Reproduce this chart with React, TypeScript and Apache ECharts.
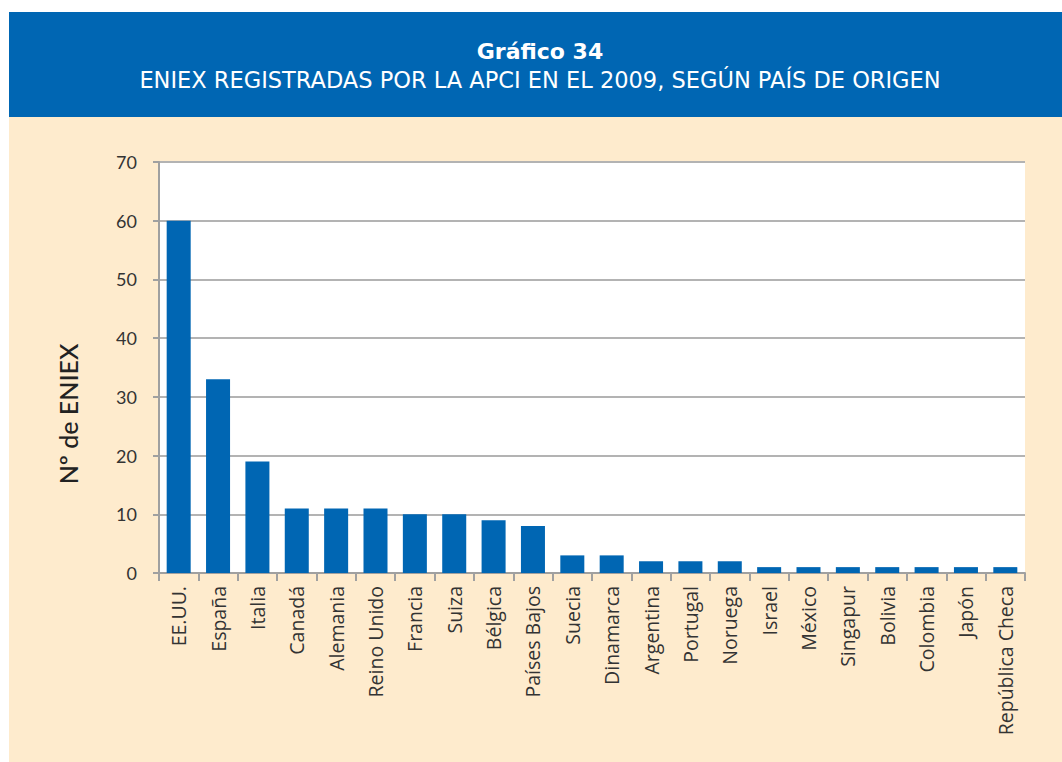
import React, { useEffect, useRef } from "react";
import * as echarts from "echarts";

const categories = [
  "EE.UU.", "España", "Italia", "Canadá", "Alemania", "Reino Unido", "Francia", "Suiza",
  "Bélgica", "Países Bajos", "Suecia", "Dinamarca", "Argentina", "Portugal", "Noruega",
  "Israel", "México", "Singapur", "Bolivia", "Colombia", "Japón", "República Checa",
];
const values = [60, 33, 19, 11, 11, 11, 10, 10, 9, 8, 3, 3, 2, 2, 2, 1, 1, 1, 1, 1, 1, 1];
const yTicks = [0, 10, 20, 30, 40, 50, 60, 70];

const titleText = "Gráfico 34";
const subtitleText = "ENIEX REGISTRADAS POR LA APCI EN EL 2009, SEGÚN PAÍS DE ORIGEN";
const yAxisName = "Nº de ENIEX";

const FONT = "Lato, 'Open Sans', sans-serif";
const LABEL_FONT = "'Open Sans', Lato, sans-serif";
const HEAD_FONT = "'DejaVu Sans', sans-serif";

export default function App() {
  const ref = useRef<HTMLDivElement>(null);
  useEffect(() => {
    if (!ref.current) return;
    const chart = echarts.init(ref.current, undefined, { renderer: "svg" });
    chart.setOption({
      animation: false,
      backgroundColor: "#ffffff",
      textStyle: { fontFamily: FONT },
      graphic: [
        { type: "rect", shape: { x: 9, y: 117, width: 1053, height: 645 }, style: { fill: "#FEEBCD" }, z: -10 },
        { type: "rect", shape: { x: 9, y: 12, width: 1053, height: 105 }, style: { fill: "#0066B3" }, z: -10 },
        {
          type: "text", x: 540, y: 51,
          style: { text: titleText, fill: "#ffffff", font: `bold 22px ${HEAD_FONT}`, align: "center", verticalAlign: "middle" },
        },
        {
          type: "text", x: 540, y: 80,
          style: { text: subtitleText, fill: "#ffffff", font: `22.5px ${HEAD_FONT}`, align: "center", verticalAlign: "middle" },
        },
        {
          type: "text", x: 68, y: 414, rotation: Math.PI / 2,
          style: { text: yAxisName, fill: "#222222", font: `500 25px ${FONT}`, align: "center", verticalAlign: "middle" },
        },
      ],
      grid: {
        left: 159, right: 37, top: 162, bottom: 189,
        show: true, backgroundColor: "#ffffff", borderWidth: 0,
      },
      xAxis: {
        type: "category",
        data: categories,
        axisLine: { lineStyle: { color: "#A0A0A0", width: 2 } },
        axisTick: { show: true, length: 8, alignWithLabel: false, lineStyle: { color: "#A0A0A0", width: 2 } },
        axisLabel: {
          rotate: 90, interval: 0, margin: 13, color: "#333333", fontSize: 19.5, fontFamily: LABEL_FONT,
        },
      },
      yAxis: {
        type: "value",
        min: 0, max: 70, interval: 10,
        axisLine: { show: true, lineStyle: { color: "#A0A0A0", width: 2 } },
        axisTick: { show: true, length: 6, lineStyle: { color: "#A0A0A0", width: 2 } },
        axisLabel: {
          margin: 22, color: "#333333", fontSize: 18, fontFamily: FONT,
          formatter: (v: number) => (yTicks.includes(v) ? String(v) : ""),
        },
        splitLine: { show: true, lineStyle: { color: "#B3B3B3", width: 2 } },
      },
      series: [
        {
          type: "bar",
          data: values,
          barWidth: "61%",
          itemStyle: { color: "#0066B3" },
        },
      ],
    });
    return () => chart.dispose();
  }, []);
  return <div ref={ref} style={{ width: 1062, height: 762, position: "absolute", left: 0, top: 0 }} />;
}
